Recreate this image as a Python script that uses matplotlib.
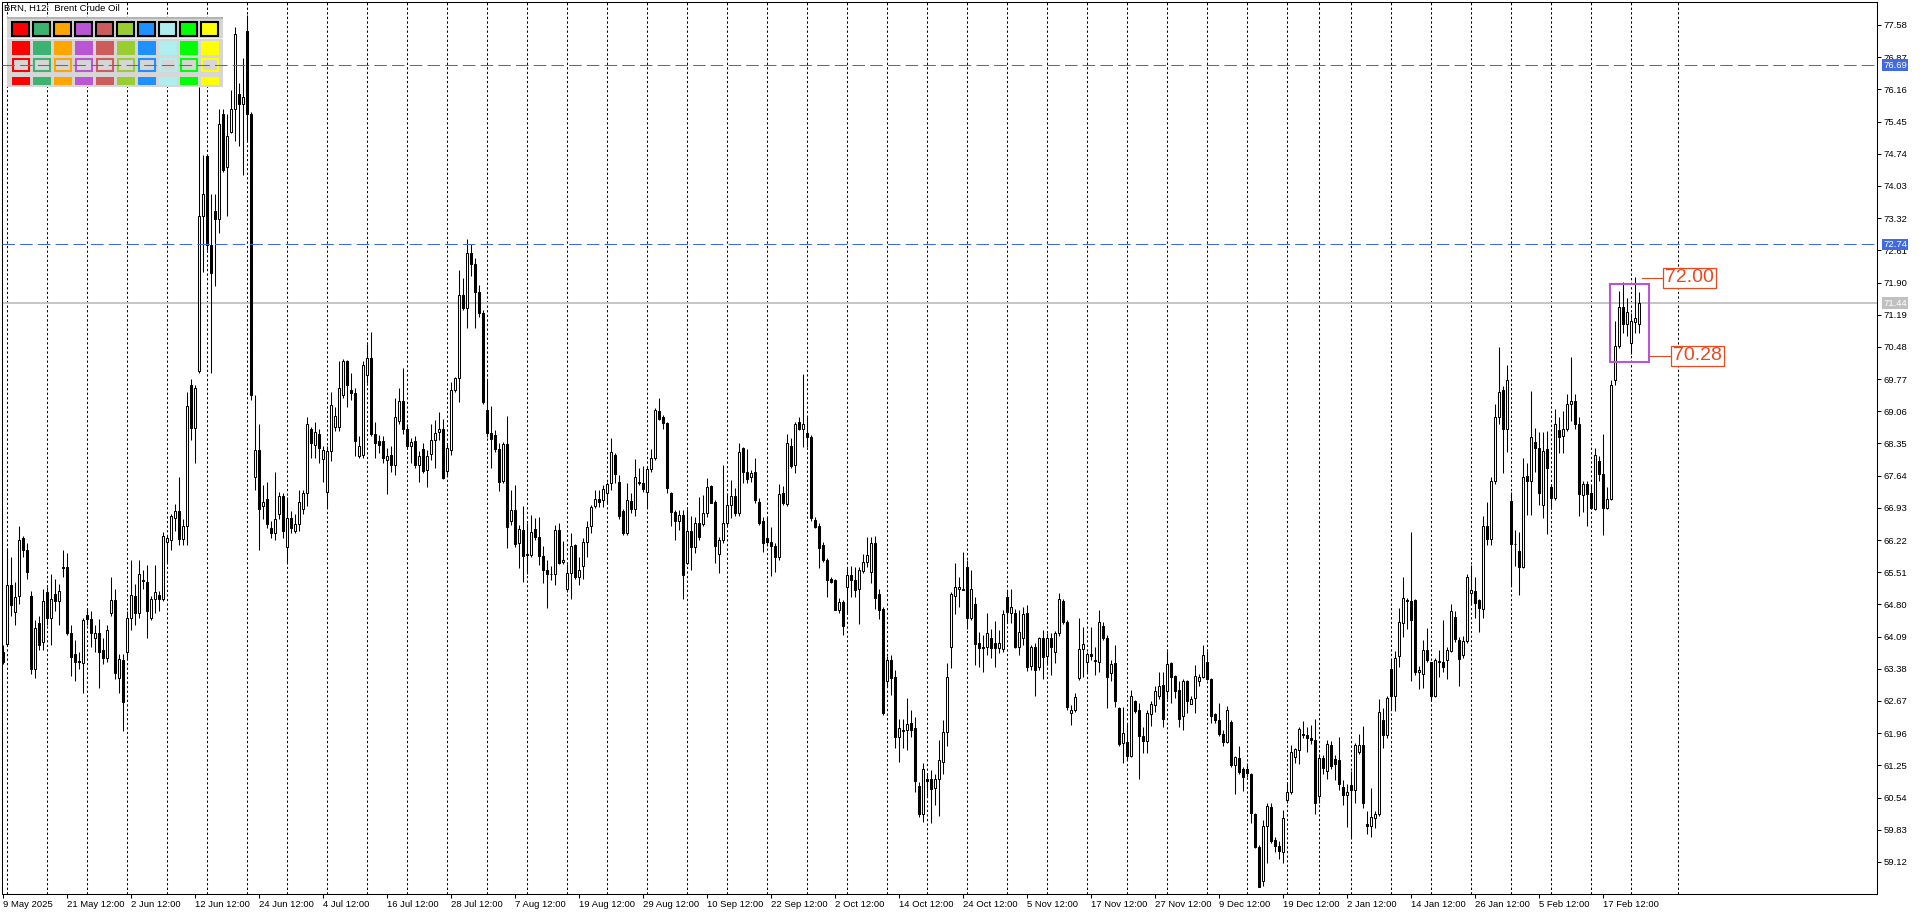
import matplotlib.pyplot as plt
import matplotlib.transforms as mtransforms
from matplotlib.patches import Rectangle

plt.rcParams['font.family'] = ['Liberation Sans', 'DejaVu Sans']

# Brent H12 candles (bar 0 = 9 May 2025)
opens = [
    63.75, 63.93, 65.22, 64.64, 64.98, 66.26, 66.00, 64.98, 63.38, 64.39,
    63.97, 65.07, 64.50, 65.03, 64.87, 65.62, 65.62, 64.18, 63.70, 63.55,
    63.51, 64.57, 64.47, 64.07, 64.18, 63.80, 63.62, 64.61, 64.90, 63.18,
    63.57, 63.75, 64.50, 64.98, 64.61, 65.33, 65.30, 64.50, 64.93, 65.00,
    64.93, 66.18, 66.21, 66.71, 66.85, 66.24, 66.53, 69.63, 68.69, 69.95,
    73.37, 74.69, 72.73, 73.48, 73.30, 75.62, 74.44, 75.22, 75.72, 76.05,
    75.83, 77.44, 75.62, 67.60, 68.21, 66.96, 67.12, 66.48, 66.37, 66.80,
    67.20, 66.07, 66.71, 66.42, 66.58, 66.90, 67.25, 68.67, 68.32, 68.56,
    68.00, 67.28, 68.19, 68.72, 68.72, 69.42, 70.17, 69.52, 69.47, 68.08,
    68.10, 69.85, 70.24, 68.56, 68.40, 68.40, 67.99, 68.10, 67.87, 68.85,
    69.28, 68.67, 68.30, 68.40, 67.87,
    68.22, 67.76, 68.12, 68.43, 68.61, 68.66, 67.75, 68.20, 69.53, 69.79,
    71.62, 71.33, 72.55, 72.30, 71.68, 71.22, 69.09, 68.59, 68.54, 68.22,
    67.53, 68.34, 66.63, 66.88, 66.16, 66.44, 65.91, 65.89, 66.46, 66.29,
    65.87, 65.57, 65.48, 65.47, 66.44, 65.73, 65.13, 65.49, 66.11, 65.41,
    65.65, 66.18, 66.53, 66.96, 67.12, 67.10, 67.26, 67.47, 68.09, 67.49,
    66.85, 66.38, 67.09, 66.90, 67.51, 67.47, 67.29, 67.78, 68.02, 69.07,
    68.93, 68.81, 67.26, 66.84, 66.63, 66.77, 65.72, 66.43, 66.06, 66.59,
    66.57, 66.82, 67.41, 67.07, 65.91, 66.22, 66.60, 66.99, 67.19, 66.82,
    68.24, 67.71, 67.62, 67.71, 67.07, 66.63, 66.27, 66.18, 66.09, 65.85,
    67.26, 67.02, 68.29, 67.87, 68.83, 68.68, 68.59, 68.50, 66.66, 66.53,
    66.11, 65.78, 65.35, 65.34, 64.68,
    64.86, 65.19, 65.45, 65.34, 65.13, 65.54, 65.74, 65.52, 66.15, 65.04,
    64.69, 63.12, 63.57, 63.21, 61.88, 62.01, 62.04, 62.18, 62.07, 60.79,
    60.18, 60.94, 60.94, 60.74, 60.96, 61.33, 61.99, 63.87, 64.99, 65.13,
    65.15, 65.62, 64.51, 64.82, 63.96, 63.87, 63.85, 64.07, 63.96, 63.83,
    63.81, 64.96, 64.62, 64.60, 63.85, 64.07, 64.60, 63.44, 63.85, 63.41,
    64.07, 63.66, 64.05, 63.74, 64.16, 64.88, 64.42, 62.40, 62.47, 63.17,
    63.81, 63.52, 63.71, 63.57, 63.54, 64.32, 64.07, 63.28, 63.50, 62.51,
    61.74, 61.77, 61.46, 62.66, 62.47, 61.90, 61.79, 62.38, 62.58, 62.78,
    63.02, 62.90, 63.50, 63.22, 62.91, 62.34, 63.12, 62.60, 62.73, 63.10,
    63.21, 63.52, 63.15, 62.38, 62.26, 61.94, 61.77, 62.21, 61.26, 61.41,
    61.16, 61.16, 61.07, 60.18, 59.46,
    58.70, 59.92, 60.33, 59.61, 59.48, 59.34, 60.48, 60.66, 61.44, 61.59,
    61.95, 61.93, 61.86, 61.80, 60.58, 61.41, 61.13, 61.69, 61.38, 61.36,
    60.77, 60.60, 60.82, 60.71, 61.55, 61.70, 59.95, 59.92, 60.09, 60.17,
    62.25, 61.93, 63.38, 62.77, 63.66, 64.38, 64.90, 64.88, 64.90, 63.30,
    63.26, 63.79, 63.52, 62.79, 63.55, 63.52, 63.58, 63.77, 64.53, 64.02,
    63.69, 64.00, 65.05, 65.10, 64.90, 64.70, 66.53, 66.24, 67.52, 68.94,
    69.53, 68.68, 67.08, 66.14, 65.97, 65.63, 67.63, 67.52, 68.39, 68.26,
    66.99, 68.22, 67.38, 67.15, 68.64, 68.51, 68.67, 69.21, 69.29, 68.78,
    67.21, 67.46, 67.25, 66.91, 67.97, 67.67, 66.93, 67.12, 69.74, 70.50,
    71.37, 70.98, 70.56, 71.03, 70.98,
]
highs = [
    63.91, 66.05, 65.84, 65.30, 66.53, 66.30, 66.16, 65.09, 64.45, 64.55,
    65.14, 65.19, 65.46, 65.35, 65.25, 66.00, 65.94, 64.34, 64.02, 63.75,
    64.50, 64.71, 64.66, 64.34, 64.47, 64.07, 64.34, 65.41, 65.14, 63.70,
    63.70, 64.66, 65.78, 65.25, 65.78, 65.57, 65.67, 64.98, 65.67, 65.09,
    66.39, 66.32, 66.80, 67.01, 67.60, 66.69, 69.49, 69.77, 69.63, 76.21,
    74.71, 74.71, 73.85, 73.85, 75.72, 75.72, 75.62, 76.15, 77.54, 76.31,
    76.85, 77.81, 75.65, 69.42, 68.78, 67.44, 67.49, 66.64, 67.71, 67.28,
    67.25, 67.17, 66.85, 66.80, 67.33, 67.33, 68.94, 68.72, 68.83, 68.67,
    68.30, 68.30, 69.49, 69.15, 70.17, 70.22, 70.20, 69.90, 69.58, 68.51,
    70.17, 70.54, 70.81, 68.83, 68.53, 68.51, 68.24, 68.30, 69.36, 69.58,
    70.01, 68.78, 68.46, 68.51, 68.19,
    68.35, 68.20, 68.79, 68.87, 69.05, 68.90, 68.35, 69.71, 69.82, 72.18,
    72.00, 72.85, 72.74, 72.45, 71.85, 71.29, 69.75, 69.18, 68.65, 68.35,
    68.39, 68.95, 67.33, 67.43, 66.55, 66.96, 66.60, 66.77, 66.70, 66.73,
    66.09, 65.79, 65.65, 66.55, 66.60, 66.20, 65.70, 66.37, 66.13, 65.84,
    66.26, 66.63, 66.99, 67.33, 67.33, 67.43, 67.51, 68.46, 68.15, 67.65,
    66.90, 67.47, 67.26, 68.00, 67.80, 67.85, 67.84, 68.22, 69.13, 69.35,
    68.98, 68.83, 67.29, 66.88, 66.88, 66.88, 66.90, 66.75, 66.73, 67.18,
    67.21, 67.58, 67.43, 67.10, 66.29, 67.87, 67.26, 67.54, 67.36, 68.35,
    68.28, 68.22, 67.76, 68.02, 67.14, 66.73, 66.73, 66.51, 66.15, 67.46,
    67.41, 68.56, 68.46, 68.83, 68.94, 69.88, 68.94, 68.54, 66.73, 66.59,
    66.18, 65.82, 65.41, 65.37, 64.95,
    64.90, 65.63, 65.65, 65.63, 65.62, 65.91, 66.29, 66.28, 66.31, 65.13,
    64.74, 63.66, 63.68, 63.35, 62.27, 62.27, 62.73, 62.47, 62.31, 60.89,
    61.30, 61.09, 61.15, 61.07, 61.81, 62.24, 63.50, 65.08, 65.71, 65.41,
    65.96, 65.77, 65.57, 64.97, 64.20, 64.13, 64.62, 64.25, 64.44, 64.24,
    64.68, 65.12, 65.13, 64.71, 64.68, 64.75, 64.79, 63.91, 63.94, 64.09,
    64.24, 64.16, 64.16, 64.22, 65.06, 64.93, 64.46, 62.58, 62.85, 64.49,
    64.31, 63.76, 64.31, 63.87, 64.68, 64.42, 64.13, 63.57, 63.90, 62.54,
    62.54, 62.19, 62.91, 62.69, 62.62, 62.10, 62.47, 62.66, 62.99, 63.32,
    63.32, 63.78, 63.52, 63.24, 63.10, 63.15, 63.13, 62.77, 63.46, 63.27,
    63.90, 63.78, 63.17, 62.41, 62.63, 62.03, 62.56, 62.25, 61.46, 61.68,
    61.21, 61.30, 61.09, 60.19, 59.49,
    60.05, 60.43, 60.43, 59.67, 59.59, 60.26, 60.88, 61.69, 61.64, 62.10,
    62.23, 62.10, 62.14, 62.27, 61.49, 61.47, 61.80, 61.78, 61.47, 61.87,
    60.92, 60.83, 61.13, 61.75, 61.95, 62.12, 60.24, 60.75, 60.24, 62.71,
    62.52, 62.77, 63.60, 63.77, 64.73, 65.41, 64.95, 66.39, 64.93, 63.45,
    64.02, 64.28, 63.54, 63.62, 63.79, 64.45, 63.86, 64.82, 64.65, 64.08,
    64.11, 65.46, 65.66, 65.41, 64.93, 66.74, 67.06, 67.60, 69.21, 70.47,
    69.61, 70.08, 67.29, 66.45, 66.39, 68.03, 67.92, 69.51, 68.70, 68.60,
    68.60, 68.62, 67.46, 69.11, 68.94, 69.06, 69.43, 70.25, 69.43, 68.94,
    67.52, 67.52, 67.43, 68.25, 68.08, 68.56, 67.38, 69.74, 71.05, 71.72,
    71.91, 71.55, 71.22, 72.02, 71.70,
]
lows = [
    63.48, 63.91, 64.55, 64.34, 64.82, 65.84, 65.35, 63.27, 63.18, 63.80,
    63.80, 64.34, 63.91, 64.66, 64.34, 65.41, 64.13, 63.22, 63.11, 63.38,
    62.84, 64.34, 63.86, 63.75, 62.95, 63.48, 63.54, 64.55, 63.16, 62.84,
    62.01, 63.59, 64.23, 64.34, 64.50, 65.14, 64.07, 64.45, 64.61, 64.66,
    64.87, 65.73, 66.00, 66.42, 66.10, 66.10, 66.10, 68.42, 67.92, 69.90,
    72.14, 72.62, 69.90, 71.82, 73.00, 74.33, 73.37, 75.19, 75.03, 74.92,
    74.28, 75.03, 69.31, 67.33, 66.00, 66.69, 66.48, 66.26, 66.21, 66.69,
    66.26, 65.73, 66.37, 66.37, 66.42, 66.80, 66.96, 68.03, 68.03, 67.92,
    67.49, 66.93, 67.97, 68.62, 68.62, 69.36, 69.15, 69.31, 68.08, 68.03,
    68.03, 69.69, 68.51, 68.03, 68.14, 67.92, 67.23, 67.71, 67.65, 68.78,
    68.56, 68.24, 67.92, 67.81, 67.49,
    67.69, 67.40, 67.98, 67.80, 68.43, 67.56, 67.65, 68.10, 69.49, 69.27,
    71.29, 70.90, 72.05, 70.89, 71.15, 69.23, 68.50, 67.80, 68.17, 67.31,
    67.47, 66.04, 66.55, 66.07, 65.60, 65.30, 65.48, 65.85, 66.21, 65.67,
    65.28, 64.73, 65.34, 65.23, 65.70, 65.70, 65.08, 64.91, 65.35, 65.23,
    65.35, 65.85, 66.37, 66.92, 66.94, 66.94, 67.03, 67.33, 67.47, 66.68,
    66.33, 66.33, 66.81, 66.74, 67.43, 67.29, 66.92, 67.73, 67.98, 68.87,
    68.68, 67.26, 66.53, 66.21, 66.44, 64.93, 65.70, 65.56, 65.93, 66.21,
    66.53, 66.73, 67.03, 65.71, 65.50, 66.15, 66.53, 66.70, 66.75, 66.75,
    67.47, 67.47, 67.51, 67.03, 66.55, 65.96, 66.09, 65.43, 65.52, 65.79,
    66.99, 66.96, 67.80, 67.69, 68.65, 68.28, 68.28, 66.63, 66.48, 65.60,
    65.74, 64.97, 65.27, 64.68, 64.60,
    64.13, 64.62, 64.97, 64.97, 64.37, 65.50, 65.63, 65.27, 64.71, 64.47,
    62.36, 63.00, 62.80, 61.63, 61.33, 61.63, 61.59, 61.88, 60.67, 60.12,
    60.01, 60.56, 59.99, 60.38, 60.13, 61.07, 61.68, 63.39, 64.59, 64.75,
    65.11, 64.25, 64.46, 63.46, 63.43, 63.32, 63.68, 63.61, 63.43, 63.72,
    63.74, 64.40, 64.40, 63.83, 63.68, 63.91, 63.34, 63.35, 62.77, 63.35,
    63.15, 63.46, 63.24, 63.50, 64.10, 64.37, 62.47, 62.14, 62.43, 63.13,
    63.21, 63.32, 63.57, 63.24, 63.32, 64.02, 62.51, 63.10, 62.54, 61.68,
    61.30, 61.37, 61.43, 62.41, 60.96, 61.53, 61.52, 62.12, 62.43, 62.71,
    62.09, 62.71, 62.62, 62.73, 62.09, 62.04, 62.41, 62.60, 62.41, 62.99,
    63.17, 63.13, 62.19, 62.18, 61.90, 61.68, 61.74, 61.21, 60.62, 61.07,
    60.69, 60.99, 59.97, 59.42, 58.56,
    58.60, 59.10, 59.53, 59.33, 59.19, 59.10, 60.43, 60.62, 61.30, 61.27,
    61.85, 61.55, 61.72, 60.18, 60.43, 61.05, 60.96, 61.17, 60.92, 60.71,
    60.37, 59.89, 59.65, 60.43, 61.51, 60.31, 59.74, 59.67, 59.86, 60.14,
    61.64, 61.85, 62.50, 62.44, 63.43, 64.08, 64.25, 63.11, 63.24, 62.93,
    62.96, 63.54, 62.69, 62.76, 63.20, 63.30, 63.15, 63.75, 63.97, 62.99,
    63.62, 63.96, 64.80, 64.51, 64.19, 64.51, 66.11, 66.11, 67.46, 68.77,
    67.69, 68.16, 65.21, 65.65, 65.01, 65.60, 66.78, 66.78, 67.71, 66.99,
    66.70, 66.36, 66.91, 67.10, 68.14, 68.14, 68.62, 68.85, 68.68, 66.76,
    66.83, 66.53, 66.91, 66.89, 67.52, 66.34, 66.91, 67.10, 69.65, 70.46,
    70.79, 70.73, 70.33, 70.79, 70.78,
]
closes = [
    63.54, 65.22, 64.79, 64.96, 66.21, 66.00, 65.51, 63.38, 64.29, 63.91,
    64.87, 64.50, 64.93, 64.87, 65.09, 65.60, 64.18, 63.64, 63.54, 63.52,
    64.45, 64.47, 64.18, 64.18, 63.75, 63.62, 64.23, 64.90, 63.29, 63.59,
    62.65, 64.50, 65.00, 64.61, 65.46, 65.32, 64.66, 64.93, 65.07, 64.93,
    66.32, 66.26, 66.74, 66.85, 66.24, 66.53, 69.17, 68.69, 69.58, 73.37,
    73.85, 72.73, 72.12, 73.30, 75.40, 74.39, 75.14, 75.72, 77.38, 75.83,
    75.99, 75.62, 69.42, 68.21, 66.90, 67.07, 66.58, 66.37, 66.69, 67.20,
    66.42, 66.71, 66.48, 66.58, 67.07, 67.25, 68.78, 68.35, 68.60, 68.24,
    68.21, 68.19, 69.20, 68.96, 69.58, 70.17, 69.63, 69.47, 68.40, 68.30,
    70.09, 70.24, 68.56, 68.35, 68.32, 68.03, 68.08, 67.87, 68.94, 69.28,
    68.67, 68.30, 68.38, 67.87, 68.08,
    67.75, 68.07, 68.43, 68.57, 68.66, 67.58, 68.24, 69.54, 69.79, 71.62,
    71.33, 72.55, 72.30, 71.70, 71.22, 69.27, 68.59, 68.44, 68.22, 67.49,
    68.34, 66.51, 66.88, 66.13, 66.46, 65.87, 65.88, 66.40, 66.28, 65.87,
    65.57, 65.47, 65.47, 66.44, 65.72, 65.78, 65.49, 66.09, 65.41, 65.57,
    66.18, 66.50, 66.94, 67.12, 67.07, 67.35, 67.46, 68.17, 67.68, 66.74,
    66.37, 67.10, 66.90, 67.60, 67.47, 67.34, 67.78, 68.02, 69.09, 68.90,
    68.81, 67.36, 66.84, 66.63, 66.77, 65.45, 66.43, 66.06, 66.59, 66.29,
    66.82, 67.40, 67.04, 66.09, 66.22, 66.60, 66.99, 67.19, 66.82, 68.17,
    67.71, 67.56, 67.69, 67.10, 66.60, 66.15, 66.18, 66.09, 65.85, 67.24,
    67.03, 68.35, 67.85, 68.78, 68.68, 68.78, 68.49, 66.70, 66.51, 66.04,
    65.78, 65.34, 65.30, 64.68, 64.86,
    64.32, 65.45, 65.34, 65.12, 65.57, 65.74, 65.89, 66.15, 64.95, 64.68,
    62.41, 63.57, 63.17, 61.88, 62.07, 62.04, 62.16, 62.04, 60.91, 60.18,
    61.16, 60.91, 60.72, 60.96, 61.37, 61.98, 63.19, 65.02, 65.18, 65.18,
    65.12, 64.49, 65.15, 63.93, 63.83, 63.83, 64.18, 63.83, 63.83, 63.96,
    64.59, 64.64, 64.74, 63.87, 64.20, 64.59, 63.43, 63.85, 63.35, 64.07,
    63.63, 64.05, 63.85, 64.16, 64.93, 64.42, 62.53, 62.47, 62.75, 63.81,
    63.93, 63.71, 63.66, 63.55, 64.42, 64.07, 63.21, 63.49, 62.66, 61.72,
    61.97, 61.46, 62.77, 62.46, 61.90, 61.79, 62.40, 62.60, 62.88, 63.00,
    62.27, 63.49, 63.21, 62.90, 62.28, 63.12, 62.66, 62.71, 63.22, 63.21,
    63.68, 63.15, 62.34, 62.25, 61.94, 61.77, 62.47, 61.26, 61.44, 61.11,
    60.99, 61.09, 60.19, 59.46, 58.57,
    59.92, 60.35, 59.59, 59.47, 59.36, 60.09, 60.66, 61.55, 61.61, 62.06,
    61.92, 61.85, 61.80, 60.43, 61.41, 61.19, 61.72, 61.24, 61.27, 60.83,
    60.60, 60.67, 60.71, 61.70, 61.70, 60.43, 59.91, 60.12, 60.17, 62.42,
    61.92, 62.73, 62.77, 63.62, 64.42, 64.95, 64.88, 64.46, 63.30, 63.35,
    63.79, 63.58, 62.79, 63.58, 63.52, 63.43, 63.79, 64.65, 64.04, 63.60,
    64.00, 65.41, 65.12, 64.84, 64.72, 66.53, 66.24, 67.52, 68.94, 69.48,
    68.67, 69.74, 66.13, 66.13, 65.63, 67.60, 67.52, 68.50, 68.25, 67.25,
    68.19, 67.80, 67.15, 68.77, 68.50, 68.67, 69.21, 69.29, 68.78, 67.23,
    67.46, 67.23, 66.93, 68.09, 67.67, 66.93, 67.12, 69.63, 70.50, 71.37,
    70.98, 71.26, 71.06, 71.11, 71.45,
]

date_labels = ['9 May 2025', '21 May 12:00', '2 Jun 12:00', '12 Jun 12:00', '24 Jun 12:00',
               '4 Jul 12:00', '16 Jul 12:00', '28 Jul 12:00', '7 Aug 12:00', '19 Aug 12:00',
               '29 Aug 12:00', '10 Sep 12:00', '22 Sep 12:00', '2 Oct 12:00', '14 Oct 12:00',
               '24 Oct 12:00', '5 Nov 12:00', '17 Nov 12:00', '27 Nov 12:00', '9 Dec 12:00',
               '19 Dec 12:00', '2 Jan 12:00', '14 Jan 12:00', '26 Jan 12:00', '5 Feb 12:00',
               '17 Feb 12:00']
label_bars = [0, 16, 32, 48, 64, 80, 96, 112, 128, 144, 160, 176, 192, 208, 224,
              240, 256, 272, 288, 304, 320, 336, 352, 368, 384, 400]
price_ticks = [77.58, 76.87, 76.16, 75.45, 74.74, 74.03, 73.32, 72.61, 71.90, 71.19,
               70.48, 69.77, 69.06, 68.35, 67.64, 66.93, 66.22, 65.51, 64.80, 64.09,
               63.38, 62.67, 61.96, 61.25, 60.54, 59.83, 59.12]
levels = [76.69, 72.74]
bid = 71.44
range_top = 72.00
range_bottom = 70.28
palette = ['#FF0000', '#3CB371', '#FFA500', '#BA55D3', '#CD5C5C',
           '#9ACD32', '#1E90FF', '#AFEEEE', '#00FF00', '#FFFF00']

W, H = 1920, 915
fig = plt.figure(figsize=(W / 100, H / 100), dpi=100)
ax = fig.add_axes([1.5 / W, 1 - 894 / H, (1877 - 1.5) / W, (894 - 2) / H])
ax.set_xlim(-0.375, 468.5)
ax.set_ylim(58.413, 78.087)

# pixel coordinates (origin top-left) for the on-chart widgets
px = mtransforms.Affine2D().scale(1 / W, -1 / H).translate(0, 1) + fig.transFigure
ytrans = mtransforms.blended_transform_factory(ax.transAxes, ax.transData)

# weekly separators
weeks = [0.92 + 10 * k for k in range(33)] + [328.92, 336.92] + \
        [346.92 + 10 * k for k in range(7)] + [418.75]
for g in weeks:
    ax.axvline(g, color='black', lw=0.75, ls=(0, (2.2, 2.2)), zorder=1)

# candles
xs = list(range(len(closes)))
ax.vlines(xs, lows, highs, color='black', lw=0.75, zorder=3)
bottoms = [min(o, c) for o, c in zip(opens, closes)]
heights = [abs(c - o) for o, c in zip(opens, closes)]
fills = ['white' if c >= o else 'black' for o, c in zip(opens, closes)]
ax.bar(xs, heights, width=0.5, bottom=bottoms, color=fills,
       edgecolor='black', linewidth=0.75, zorder=4)

# horizontal levels
for lv in levels:
    ax.axhline(lv, color='#4169E1', lw=0.75, ls=(0, (12, 5)), zorder=6)
    ax.text(1.0032, lv, f'{lv:.2f}', transform=ytrans, ha='left', va='center',
            fontsize=6.8, color='white', clip_on=False, zorder=10,
            bbox=dict(boxstyle='square,pad=0.15', fc='#4169E1', ec='none'))
ax.axhline(bid, color='#C0C0C0', lw=1.3, zorder=2)
ax.text(1.0032, bid, f'{bid:.2f}', transform=ytrans, ha='left', va='center',
        fontsize=6.8, color='white', clip_on=False, zorder=10,
        bbox=dict(boxstyle='square,pad=0.15', fc='#C0C0C0', ec='none'))

# axes / ticks
ax.yaxis.tick_right()
ax.set_yticks(price_ticks)
ax.set_yticklabels([f'{p:.2f}' for p in price_ticks])
ax.tick_params(axis='y', direction='out', length=3, width=0.75, pad=1.5, labelsize=6.8)
ax.set_xticks(label_bars)
ax.set_xticklabels(date_labels, ha='left')
ax.tick_params(axis='x', direction='out', length=3, width=0.75, pad=1, labelsize=6.8)
for s in ax.spines.values():
    s.set_linewidth(0.75)

# colour palette panel in the top-left corner
ax.add_patch(Rectangle((7.3, 17.3), 215.4, 70, transform=px, fc='#D6D6D6', ec='none',
                       zorder=2.5, clip_on=False))
ax.add_patch(Rectangle((7.3, 17.3), 215.4, 2, transform=px, fc='#B4B4B4', ec='none',
                       zorder=2.6, clip_on=False))
ax.add_patch(Rectangle((7.3, 37.5), 215.4, 1.2, transform=px, fc='#F2F2F2', ec='none',
                       zorder=2.6, clip_on=False))
for i, c in enumerate(palette):
    x0 = 12 + 21 * i
    ax.add_patch(Rectangle((x0, 22), 16.5, 14, transform=px, fc=c, ec='black', lw=1.5,
                           zorder=2.7, clip_on=False))
    ax.add_patch(Rectangle((x0, 40.7), 18, 14.3, transform=px, fc=c, ec='none',
                           zorder=2.7, clip_on=False))
    ax.add_patch(Rectangle((x0 + 0.8, 58.8), 16.4, 12.4, transform=px, fc='#D6D6D6', ec=c,
                           lw=1.5, zorder=2.7, clip_on=False))
    ax.add_patch(Rectangle((x0, 76.7), 18, 8.3, transform=px, fc=c, ec='none',
                           zorder=2.7, clip_on=False))

ax.text(4, 8.5, 'BRN, H12:  Brent Crude Oil', transform=px, fontsize=6.8,
        ha='left', va='center', zorder=8)

# range box with its high / low labels
oc = '#E8481E'
ax.add_patch(Rectangle((401.75, 70.15), 9.75, 1.72, fill=False, ec='#BA55D3', lw=1.5, zorder=7))
ax.plot([409.75, 415.0], [range_top, range_top], color=oc, lw=0.8, zorder=7)
ax.plot([411.5, 417.0], [range_bottom, range_bottom], color=oc, lw=0.8, zorder=7)
ax.text(415.5, range_top, f'{range_top:.2f}', fontsize=14, color=oc, ha='left', va='center',
        zorder=8, bbox=dict(boxstyle='square,pad=0.1', fc='white', ec=oc, lw=0.9))
ax.text(417.5, range_bottom, f'{range_bottom:.2f}', fontsize=14, color=oc, ha='left',
        va='center', zorder=8, bbox=dict(boxstyle='square,pad=0.1', fc='white', ec=oc, lw=0.9))

fig.savefig('out.png', dpi=100, facecolor='white')
